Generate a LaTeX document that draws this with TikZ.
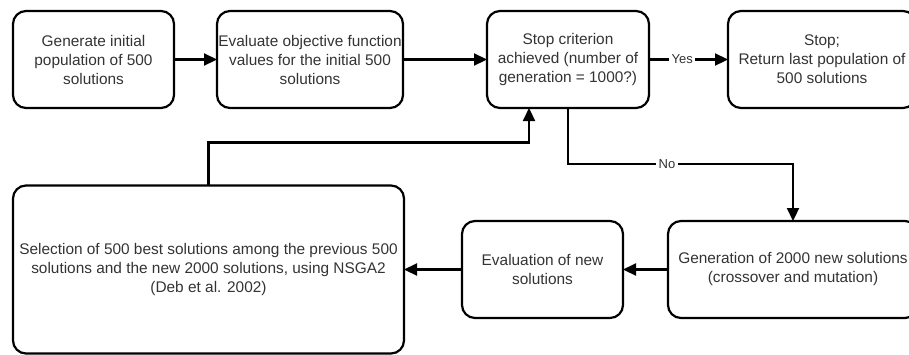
\documentclass[tikz,border=0pt]{standalone}
\usepackage{fontspec}
\setmainfont{Liberation Sans}
\usetikzlibrary{positioning, arrows.meta}
\tikzset{
     flow chart/.style={%pixels of the picture become points
        x=1pt, y=-1pt,
        line width=2.2pt,
        every node/.style={font=\fontsize{15.4}{19}\selectfont, text=black!80},
        >={Triangle[length=13pt, width=12pt]}
        },
     stepbox/.style 2 args={draw, rounded corners=13pt, align=center,
        minimum width=#1, minimum height=#2, inner sep=0pt, outer sep=0pt},
     flow label/.style={fill=white, inner sep=2.5pt}
  }
\begin{document}
\begin{tikzpicture}[flow chart]
  \useasboundingbox (0,0) rectangle (909,354);
  \clip (0,0) rectangle (909,354);
  \node[stepbox={161pt}{97pt}] (init) at (93.5,59.5) {Generate initial\\population of 500\\solutions};
  \node[stepbox={186pt}{97pt}, right=43pt of init] (evalinit) {Evaluate objective function\\values for the initial 500\\solutions};
  \node[stepbox={162pt}{97pt}, right=84pt of evalinit] (crit) {Stop criterion\\achieved (number of\\generation = 1000?)};
  \node[stepbox={188pt}{97pt}, right=79pt of crit] (stop) {Stop;\\Return last population of\\500 solutions};
  \node[stepbox={250pt}{97pt}] (newgen) at (793,269.5) {Generation of 2000 new solutions\\(crossover and mutation)};
  \node[stepbox={161pt}{97pt}, left=45pt of newgen] (evalnew) {Evaluation of new\\solutions};
  \node[stepbox={391pt}{168pt}, left=58pt of evalnew] (select) {Selection of 500 best solutions among the previous 500\\solutions and the new 2000 solutions, using NSGA2\\(Deb et al. 2002)};
%
\begin{scope}[every node/.append style={font=\fontsize{13}{15}\selectfont}]
  \draw[->] (init) -- (evalinit);
  \draw[->] (evalinit) -- (crit);
  \draw[->] (crit) -- node[flow label, pos=.42] {Yes} (stop);
  \draw[->] (crit.south) -- ++(0,56) -| node[flow label, pos=.22] {No} (newgen.north);
  \draw[->] (newgen) -- (evalnew);
  \draw[->] (evalnew) -- (select);
  \draw[->] (select.north) -- ++(0,-43) -| ([xshift=-39pt]crit.south);
\end{scope}
\end{tikzpicture}
\end{document}
